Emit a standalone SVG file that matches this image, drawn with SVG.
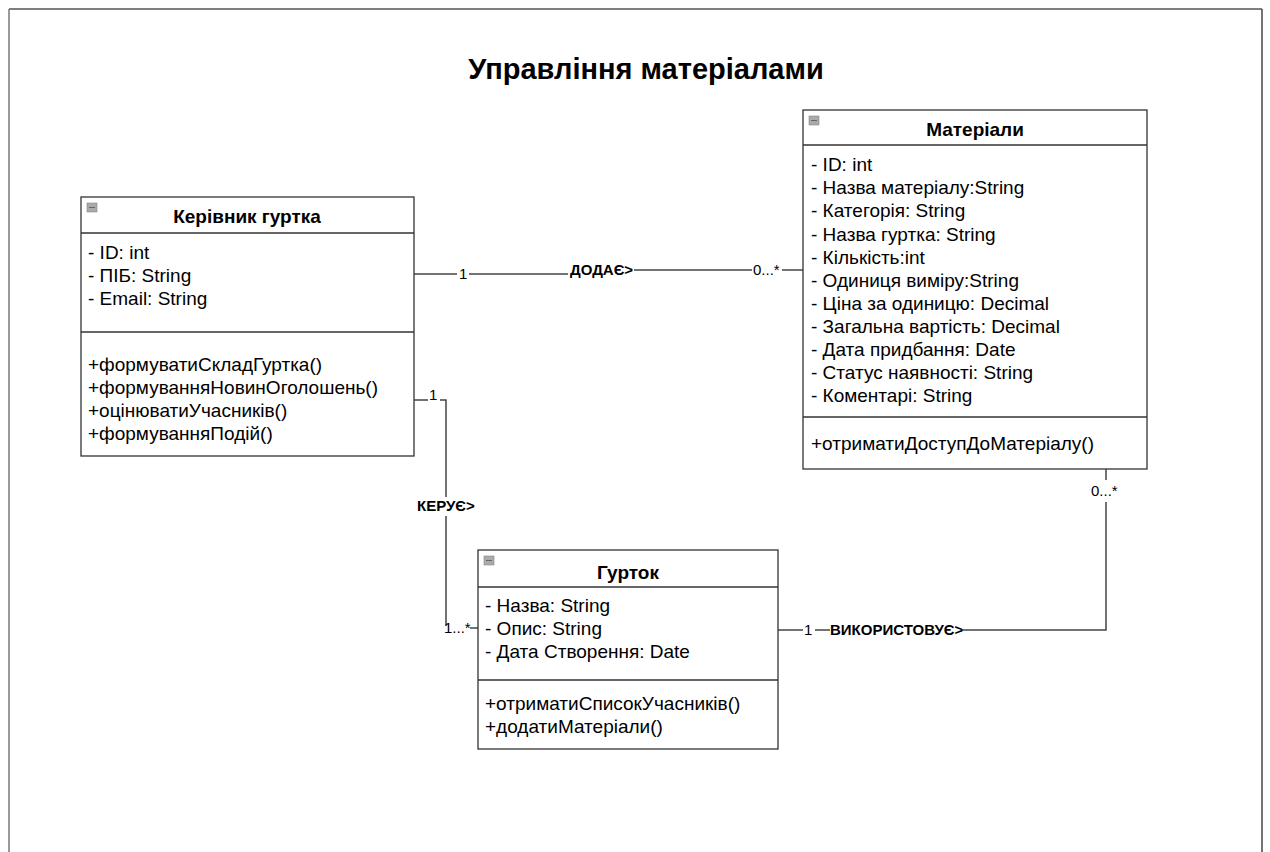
<svg xmlns="http://www.w3.org/2000/svg" width="1270" height="852" viewBox="0 0 1270 852">
<style>
.box{fill:#fff;stroke:#333;stroke-width:1.3}
.div{stroke:#333;stroke-width:1.3}
.t{font-family:"Liberation Sans",Arial,sans-serif;font-size:19px;fill:#000}
.h{font-family:"Liberation Sans",Arial,sans-serif;font-size:19px;font-weight:bold;fill:#000;text-anchor:middle}
.ln{fill:none;stroke:#444;stroke-width:1.5}
.lb{font-family:"Liberation Sans",Arial,sans-serif;font-size:15px;font-weight:bold;fill:#000}
.m{font-family:"Liberation Sans",Arial,sans-serif;font-size:15px;fill:#000}
.ico{fill:#aaa;stroke:#888;stroke-width:0.6}
</style>
<rect width="1270" height="852" fill="#fff"/>
<g id="frame">
<line x1="9" y1="9" x2="1262" y2="9" stroke="#555" stroke-width="1.5"/>
<line x1="9" y1="9" x2="9" y2="852" stroke="#777" stroke-width="1.5"/>
<line x1="1262" y1="9" x2="1262" y2="852" stroke="#444" stroke-width="1.5"/>
</g>
<text id="title" x="646" y="79" font-family="Liberation Sans,Arial,sans-serif" font-size="29" font-weight="bold" text-anchor="middle">Управління матеріалами</text>

<g id="connectors">
<polyline class="ln" points="414,274 457,274"/>
<polyline class="ln" points="469,274 568,274"/>
<polyline class="ln" points="634,270 752,270"/>
<polyline class="ln" points="782,270 803,270"/>
<text class="m" x="459" y="279">1</text>
<text class="lb" x="570" y="275">ДОДАЄ&gt;</text>
<text class="m" x="753" y="275">0...*</text>

<polyline class="ln" points="414,400 428,400"/>
<polyline class="ln" points="440,400 446,400 446,497"/>
<polyline class="ln" points="446,516 446,626"/>
<polyline class="ln" points="470,628 478,628"/>
<text class="m" x="429" y="400">1</text>
<text class="lb" x="417" y="511">КЕРУЄ&gt;</text>
<text class="m" x="444" y="633">1...*</text>

<polyline class="ln" points="778,630 803,630"/>
<polyline class="ln" points="815,630 830,630"/>
<polyline class="ln" points="963,630 1106,630 1106,502"/>
<polyline class="ln" points="1106,480 1106,469"/>
<text class="m" x="804" y="635">1</text>
<text class="lb" x="830" y="635">ВИКОРИСТОВУЄ&gt;</text>
<text class="m" x="1091" y="496">0...*</text>
</g>

<g id="kerivnyk">
<rect class="box" x="81" y="197" width="333" height="259"/>
<rect class="ico" x="87" y="203" width="10" height="9"/>
<line x1="89" y1="207.5" x2="95" y2="207.5" stroke="#666" stroke-width="1"/>
<line class="div" x1="81" y1="233" x2="414" y2="233"/>
<line class="div" x1="81" y1="332" x2="414" y2="332"/>
<text class="h" x="247" y="223">Керівник гуртка</text>
<text class="t" x="88" y="259">- ID: int</text>
<text class="t" x="88" y="282">- ПІБ: String</text>
<text class="t" x="88" y="305">- Email: String</text>
<text class="t" x="88" y="371">+формуватиСкладГуртка()</text>
<text class="t" x="88" y="394">+формуванняНовинОголошень()</text>
<text class="t" x="88" y="417">+оцінюватиУчасників()</text>
<text class="t" x="88" y="440">+формуванняПодій()</text>
</g>

<g id="materialy">
<rect class="box" x="803" y="110" width="344" height="359"/>
<rect class="ico" x="809" y="116" width="10" height="9"/>
<line x1="811" y1="120.5" x2="817" y2="120.5" stroke="#666" stroke-width="1"/>
<line class="div" x1="803" y1="145" x2="1147" y2="145"/>
<line class="div" x1="803" y1="417" x2="1147" y2="417"/>
<text class="h" x="975" y="136">Матеріали</text>
<text class="t" x="811" y="171">- ID: int</text>
<text class="t" x="811" y="194">- Назва матеріалу:String</text>
<text class="t" x="811" y="217">- Категорія: String</text>
<text class="t" x="811" y="241">- Назва гуртка: String</text>
<text class="t" x="811" y="264">- Кількість:int</text>
<text class="t" x="811" y="287">- Одиниця виміру:String</text>
<text class="t" x="811" y="310">- Ціна за одиницю: Decimal</text>
<text class="t" x="811" y="333">- Загальна вартість: Decimal</text>
<text class="t" x="811" y="356">- Дата придбання: Date</text>
<text class="t" x="811" y="379">- Статус наявності: String</text>
<text class="t" x="811" y="402">- Коментарі: String</text>
<text class="t" x="811" y="450">+отриматиДоступДоМатеріалу()</text>
</g>

<g id="gurtok">
<rect class="box" x="478" y="550" width="300" height="199"/>
<rect class="ico" x="484" y="556" width="10" height="9"/>
<line x1="486" y1="560.5" x2="492" y2="560.5" stroke="#666" stroke-width="1"/>
<line class="div" x1="478" y1="587" x2="778" y2="587"/>
<line class="div" x1="478" y1="680" x2="778" y2="680"/>
<text class="h" x="628" y="579">Гурток</text>
<text class="t" x="485" y="612">- Назва: String</text>
<text class="t" x="485" y="635">- Опис: String</text>
<text class="t" x="485" y="658">- Дата Створення: Date</text>
<text class="t" x="485" y="710">+отриматиСписокУчасників()</text>
<text class="t" x="485" y="733">+додатиМатеріали()</text>
</g>
</svg>
